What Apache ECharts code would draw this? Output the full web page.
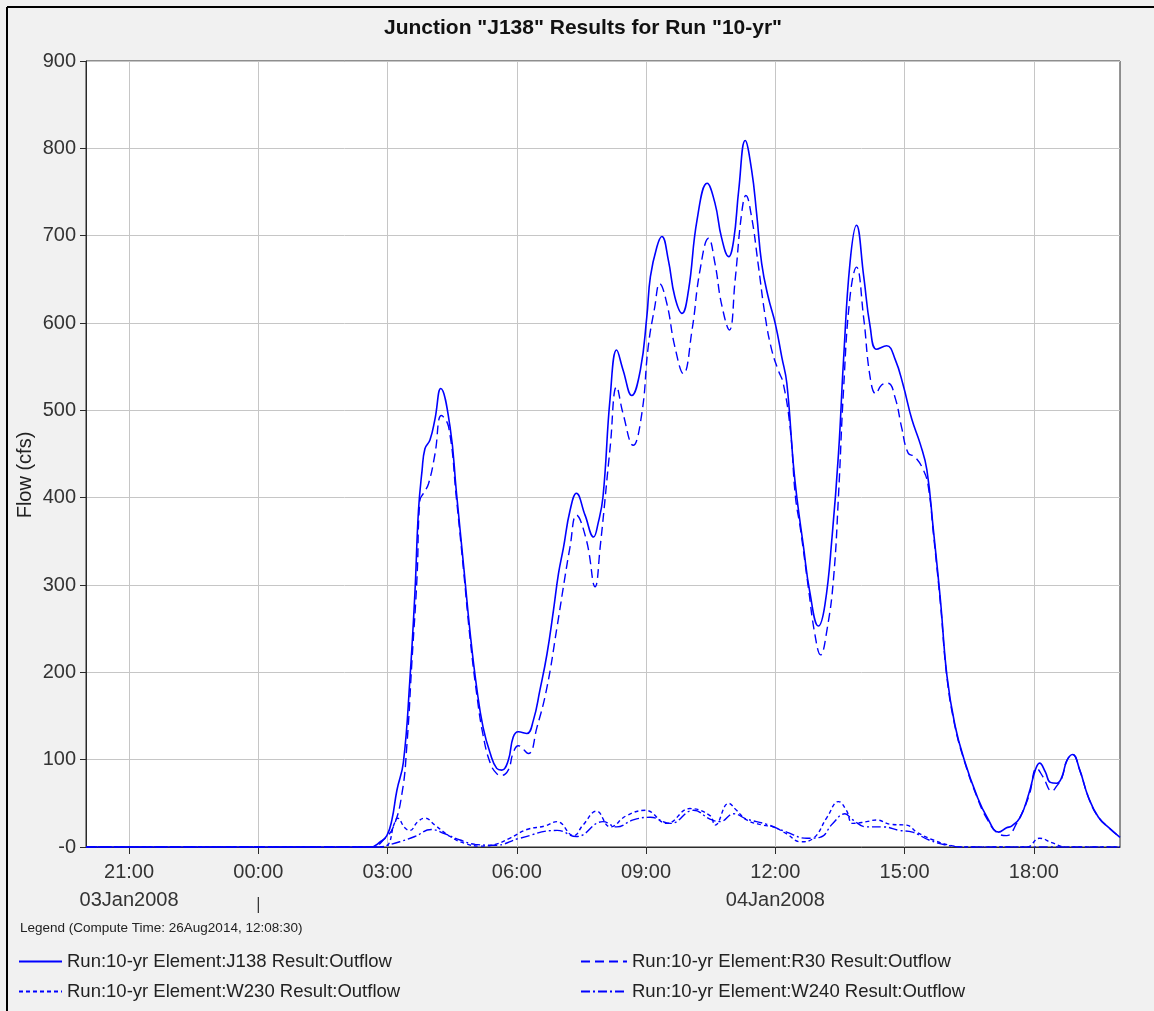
<!DOCTYPE html>
<html>
<head>
<meta charset="utf-8">
<script src="https://cdn.jsdelivr.net/npm/echarts@6/dist/echarts.min.js"></script>
<style>
  html, body { margin: 0; padding: 0; background: #ffffff; }
  #chart { width: 1154px; height: 1011px; }
</style>
</head>
<body>
<div id="chart"></div>
<script>
// ---- Text ----
const TITLE = 'Junction "J138" Results for Run "10-yr"';
const Y_NAME = 'Flow (cfs)';
const LEGEND_NOTE = 'Legend (Compute Time: 26Aug2014, 12:08:30)';
const SERIES_NAMES = [
  'Run:10-yr Element:J138 Result:Outflow',
  'Run:10-yr Element:R30 Result:Outflow',
  'Run:10-yr Element:W230 Result:Outflow',
  'Run:10-yr Element:W240 Result:Outflow'
];

// ---- Time axis (day-of-January + clock time, 2008) ----
const X_START = '3 20:00';
const X_END = '4 20:00';
const X_TICKS = ['3 21:00', '4 00:00', '4 03:00', '4 06:00', '4 09:00', '4 12:00', '4 15:00', '4 18:00'];
const DATE_LABELS = { '3 21:00': '03Jan2008', '4 12:00': '04Jan2008' };
const DAY_BREAK = '4 00:00';

// ---- Flow axis ----
const Y_MIN = 0, Y_MAX = 900, Y_STEP = 100;

// ---- Outflow hydrographs (cfs) ----
const j138 = [
  ['3 20:00', 0], ['4 02:36', 0], ['4 02:50', 6], ['4 02:59', 13], ['4 03:06', 31], ['4 03:13', 65],
  ['4 03:22', 97], ['4 03:31', 191], ['4 03:38', 290], ['4 03:43', 385], ['4 03:48', 431], ['4 03:52', 456],
  ['4 03:59', 466], ['4 04:06', 490], ['4 04:14', 525], ['4 04:27', 481], ['4 04:36', 405], ['4 04:46', 321],
  ['4 04:55', 245], ['4 05:04', 183], ['4 05:13', 137], ['4 05:23', 107], ['4 05:32', 90], ['4 05:39', 88],
  ['4 05:48', 99], ['4 05:55', 126], ['4 06:02', 132], ['4 06:14', 130], ['4 06:23', 145], ['4 06:32', 179],
  ['4 06:42', 221], ['4 06:51', 271], ['4 06:58', 313], ['4 07:05', 343], ['4 07:14', 385], ['4 07:23', 405],
  ['4 07:35', 380], ['4 07:47', 355], ['4 07:53', 370], ['4 08:00', 401], ['4 08:10', 515], ['4 08:19', 569],
  ['4 08:28', 546], ['4 08:40', 517], ['4 08:52', 546], ['4 09:01', 607], ['4 09:06', 653], ['4 09:15', 687],
  ['4 09:22', 699], ['4 09:31', 672], ['4 09:40', 630], ['4 09:50', 611], ['4 09:59', 637], ['4 10:11', 718],
  ['4 10:25', 760], ['4 10:36', 737], ['4 10:45', 698], ['4 10:55', 676], ['4 11:02', 695], ['4 11:09', 752],
  ['4 11:18', 809], ['4 11:27', 775], ['4 11:34', 725], ['4 11:41', 668], ['4 11:50', 630], ['4 12:00', 599],
  ['4 12:09', 561], ['4 12:16', 531], ['4 12:25', 439], ['4 12:30', 400], ['4 12:39', 345], ['4 12:48', 292],
  ['4 13:00', 253], ['4 13:09', 277], ['4 13:19', 355], ['4 13:28', 451], ['4 13:35', 558], ['4 13:44', 669],
  ['4 13:53', 712], ['4 14:03', 654], ['4 14:12', 596], ['4 14:21', 570], ['4 14:35', 574], ['4 14:47', 558],
  ['4 14:58', 529], ['4 15:10', 490], ['4 15:22', 461], ['4 15:31', 432], ['4 15:40', 364], ['4 15:50', 282],
  ['4 15:59', 196], ['4 16:10', 140], ['4 16:23', 100], ['4 16:41', 58], ['4 16:55', 34], ['4 17:11', 17],
  ['4 17:22', 22], ['4 17:29', 24], ['4 17:41', 34], ['4 17:53', 61], ['4 18:02', 88], ['4 18:08', 96],
  ['4 18:16', 86], ['4 18:23', 74], ['4 18:32', 73], ['4 18:39', 80], ['4 18:46', 99], ['4 18:54', 106],
  ['4 19:04', 88], ['4 19:16', 57], ['4 19:30', 34], ['4 19:46', 21], ['4 20:00', 11]
];

const r30 = [
  ['3 20:00', 0], ['4 02:40', 0], ['4 02:54', 8], ['4 03:08', 23], ['4 03:20', 61], ['4 03:27', 118],
  ['4 03:34', 214], ['4 03:41', 309], ['4 03:45', 397], ['4 03:50', 405], ['4 03:57', 416], ['4 04:06', 450],
  ['4 04:15', 494], ['4 04:25', 481], ['4 04:36', 398], ['4 04:46', 315], ['4 04:55', 238], ['4 05:04', 176],
  ['4 05:13', 128], ['4 05:23', 96], ['4 05:32', 84], ['4 05:39', 82], ['4 05:48', 88], ['4 05:55', 108],
  ['4 06:02', 116], ['4 06:16', 107], ['4 06:28', 137], ['4 06:42', 183], ['4 06:56', 252], ['4 07:07', 309],
  ['4 07:14', 343], ['4 07:23', 380], ['4 07:37', 351], ['4 07:49', 298], ['4 07:56', 343], ['4 08:10', 458],
  ['4 08:19', 527], ['4 08:28', 496], ['4 08:42', 460], ['4 08:54', 496], ['4 09:03', 573], ['4 09:12', 618],
  ['4 09:19', 645], ['4 09:29', 622], ['4 09:40', 573], ['4 09:52', 542], ['4 10:04', 592], ['4 10:15', 660],
  ['4 10:27', 697], ['4 10:36', 668], ['4 10:45', 622], ['4 10:56', 592], ['4 11:04', 649], ['4 11:13', 725],
  ['4 11:19', 746], ['4 11:27', 721], ['4 11:36', 668], ['4 11:46', 607], ['4 11:55', 569], ['4 12:04', 546],
  ['4 12:11', 531], ['4 12:21', 477], ['4 12:28', 401], ['4 12:35', 364], ['4 12:46', 297], ['4 12:55', 244],
  ['4 13:03', 220], ['4 13:12', 249], ['4 13:21', 307], ['4 13:28', 403], ['4 13:35', 524], ['4 13:44', 630],
  ['4 13:53', 664], ['4 14:03', 606], ['4 14:12', 538], ['4 14:20', 519], ['4 14:28', 529], ['4 14:37', 531],
  ['4 14:47', 514], ['4 14:56', 480], ['4 15:05', 451], ['4 15:14', 447], ['4 15:26', 432], ['4 15:33', 413],
  ['4 15:40', 360], ['4 15:50', 278], ['4 15:59', 194], ['4 16:10', 139], ['4 16:23', 99], ['4 16:41', 57],
  ['4 16:55', 32], ['4 17:11', 15], ['4 17:22', 13], ['4 17:36', 27], ['4 17:53', 58], ['4 18:04', 90],
  ['4 18:13', 80], ['4 18:25', 64], ['4 18:32', 70], ['4 18:39', 79], ['4 18:46', 99], ['4 18:54', 106],
  ['4 19:04', 88], ['4 19:16', 57], ['4 19:30', 34], ['4 19:46', 21], ['4 20:00', 11]
];

const w230 = [
  ['3 20:00', 0], ['4 02:50', 0], ['4 03:00', 2], ['4 03:09', 26], ['4 03:14', 33], ['4 03:24', 22],
  ['4 03:31', 19], ['4 03:42', 29], ['4 03:52', 33], ['4 04:06', 25], ['4 04:27', 12], ['4 04:48', 4],
  ['4 05:09', 1], ['4 05:30', 3], ['4 05:50', 10], ['4 06:14', 20], ['4 06:39', 24], ['4 06:56', 29],
  ['4 07:19', 13], ['4 07:32', 25], ['4 07:51', 41], ['4 08:10', 23], ['4 08:33', 36], ['4 08:59', 42],
  ['4 09:29', 27], ['4 10:01', 44], ['4 10:29', 36], ['4 10:36', 25], ['4 10:55', 50], ['4 11:06', 42],
  ['4 11:20', 31], ['4 11:43', 25], ['4 11:57', 23], ['4 12:16', 15], ['4 12:35', 6], ['4 12:53', 10],
  ['4 13:12', 34], ['4 13:28', 52], ['4 13:39', 42], ['4 13:48', 27], ['4 14:07', 29], ['4 14:21', 31],
  ['4 14:40', 26], ['4 15:03', 25], ['4 15:17', 17], ['4 15:40', 8], ['4 16:03', 2], ['4 16:27', 0],
  ['4 17:50', 0], ['4 18:08', 10], ['4 18:25', 5], ['4 18:45', 0], ['4 20:00', 0]
];

const w240 = [
  ['3 20:00', 0], ['4 02:50', 0], ['4 03:00', 2], ['4 03:17', 6], ['4 03:38', 12], ['4 04:01', 20],
  ['4 04:20', 15], ['4 04:41', 8], ['4 05:02', 3], ['4 05:30', 2], ['4 06:04', 10], ['4 06:56', 19],
  ['4 07:23', 12], ['4 08:00', 29], ['4 08:19', 23], ['4 08:42', 31], ['4 09:06', 34], ['4 09:34', 27],
  ['4 10:06', 42], ['4 10:29', 32], ['4 10:43', 29], ['4 11:02', 38], ['4 11:20', 32], ['4 11:48', 26],
  ['4 12:16', 17], ['4 12:44', 10], ['4 13:02', 11], ['4 13:20', 27], ['4 13:37', 38], ['4 13:48', 31],
  ['4 14:07', 23], ['4 14:30', 23], ['4 14:53', 19], ['4 15:11', 17], ['4 15:34', 8], ['4 15:59', 2],
  ['4 16:27', 0], ['4 20:00', 0]
];

// ---- Helpers ----
// Time stamps become hours from 03Jan2008 00:00.
function toHours(s) {
  const parts = s.split(' ');
  const hm = parts[1].split(':').map(Number);
  return (Number(parts[0]) - 3) * 24 + hm[0] + hm[1] / 60;
}
function pad(n) { return (n < 10 ? '0' : '') + n; }
function clock(h) {
  const mins = Math.round(h * 60);
  return pad(Math.floor(mins / 60) % 24) + ':' + pad(mins % 60);
}
const toSeries = rows => rows.map(r => [toHours(r[0]), r[1]]);

const FONT = '"Liberation Sans", Arial, sans-serif';
const BLUE = '#0000ff';
const tickHours = X_TICKS.map(toHours);
const dateByHour = {};
Object.keys(DATE_LABELS).forEach(k => { dateByHour[toHours(k)] = DATE_LABELS[k]; });

const chart = echarts.init(document.getElementById('chart'), null, { renderer: 'canvas' });

const lineSeries = (name, rows, type, width, z) => ({
  name: name,
  type: 'line',
  data: toSeries(rows),
  symbol: 'none',
  showSymbol: false,
  smooth: 0.45,
  z: z,
  itemStyle: { color: BLUE },
  lineStyle: { color: BLUE, width: width, type: type },
  emphasis: { disabled: true }
});

const legendBase = {
  orient: 'vertical', top: 952, padding: 0, itemHeight: 14, itemGap: 11, selectedMode: false,
  itemStyle: { opacity: 0 },
  textStyle: { fontSize: 18.5, color: '#222', fontFamily: FONT }
};

chart.setOption({
  animation: false,
  backgroundColor: '#f1f1f1',
  grid: {
    left: 86, top: 61, width: 1034, height: 786,
    show: true, backgroundColor: '#ffffff', borderColor: '#2a2a2a', borderWidth: 1
  },
  legend: [
    Object.assign({}, legendBase, { data: [SERIES_NAMES[0], SERIES_NAMES[2]], left: 18, itemWidth: 43 }),
    Object.assign({}, legendBase, { data: [SERIES_NAMES[1], SERIES_NAMES[3]], left: 580, itemWidth: 46 })
  ],
  xAxis: {
    type: 'value',
    min: toHours(X_START),
    max: toHours(X_END),
    axisLine: { show: true, lineStyle: { color: '#2a2a2a', width: 1 } },
    axisTick: { show: true, customValues: tickHours, length: 7, lineStyle: { color: '#2a2a2a' } },
    axisLabel: {
      customValues: tickHours,
      fontSize: 20, fontFamily: FONT, color: '#333', margin: 11, lineHeight: 28,
      formatter: function (v) {
        const s = clock(v);
        return dateByHour[v] ? s + '\n' + dateByHour[v] : s;
      }
    },
    splitLine: { show: true, lineStyle: { color: '#c6c6c6', width: 1 } }
  },
  yAxis: {
    type: 'value',
    min: Y_MIN, max: Y_MAX, interval: Y_STEP,
    axisLine: { show: true, lineStyle: { color: '#2a2a2a', width: 1 } },
    axisTick: { show: true, length: 6, lineStyle: { color: '#2a2a2a' } },
    axisLabel: {
      fontSize: 20, fontFamily: FONT, color: '#333', margin: 10,
      formatter: v => (v === 0 ? '-0' : String(v))
    },
    splitLine: { show: true, lineStyle: { color: '#c6c6c6', width: 1 } }
  },
  series: [
    lineSeries(SERIES_NAMES[0], j138, 'solid', 1.6, 5),
    lineSeries(SERIES_NAMES[1], r30, [9, 5], 1.4, 4),
    lineSeries(SERIES_NAMES[2], w230, [4, 3], 1.4, 3),
    lineSeries(SERIES_NAMES[3], w240, [9, 3, 2, 3], 1.4, 3)
  ]
});

// Day boundary marker under the time labels, placed with the axis scale
const breakX = chart.convertToPixel({ xAxisIndex: 0 }, toHours(DAY_BREAK));
const baseY = chart.convertToPixel({ yAxisIndex: 0 }, Y_MIN);

chart.setOption({
  graphic: [
    { type: 'line', shape: { x1: 7, y1: 7, x2: 1154, y2: 7 }, style: { stroke: '#000', lineWidth: 2 }, silent: true },
    { type: 'line', shape: { x1: 7, y1: 7, x2: 7, y2: 1011 }, style: { stroke: '#000', lineWidth: 2 }, silent: true },
    {
      type: 'text', x: 583, y: 28, silent: true,
      style: { text: TITLE, fontSize: 21, fontWeight: 'bold', fontFamily: FONT, fill: '#111', align: 'center', verticalAlign: 'middle' }
    },
    {
      type: 'text', x: 25, y: 475, rotation: Math.PI / 2, silent: true,
      style: { text: Y_NAME, fontSize: 20, fontFamily: FONT, fill: '#222', align: 'center', verticalAlign: 'middle' }
    },
    {
      type: 'text', x: 20, y: 928, silent: true,
      style: { text: LEGEND_NOTE, fontSize: 13.5, fontFamily: FONT, fill: '#222', align: 'left', verticalAlign: 'middle' }
    },
    {
      type: 'line', silent: true,
      shape: { x1: breakX, y1: baseY + 50, x2: breakX, y2: baseY + 66 },
      style: { stroke: '#2a2a2a', lineWidth: 1.2 }
    }
  ]
});
</script>
</body>
</html>
